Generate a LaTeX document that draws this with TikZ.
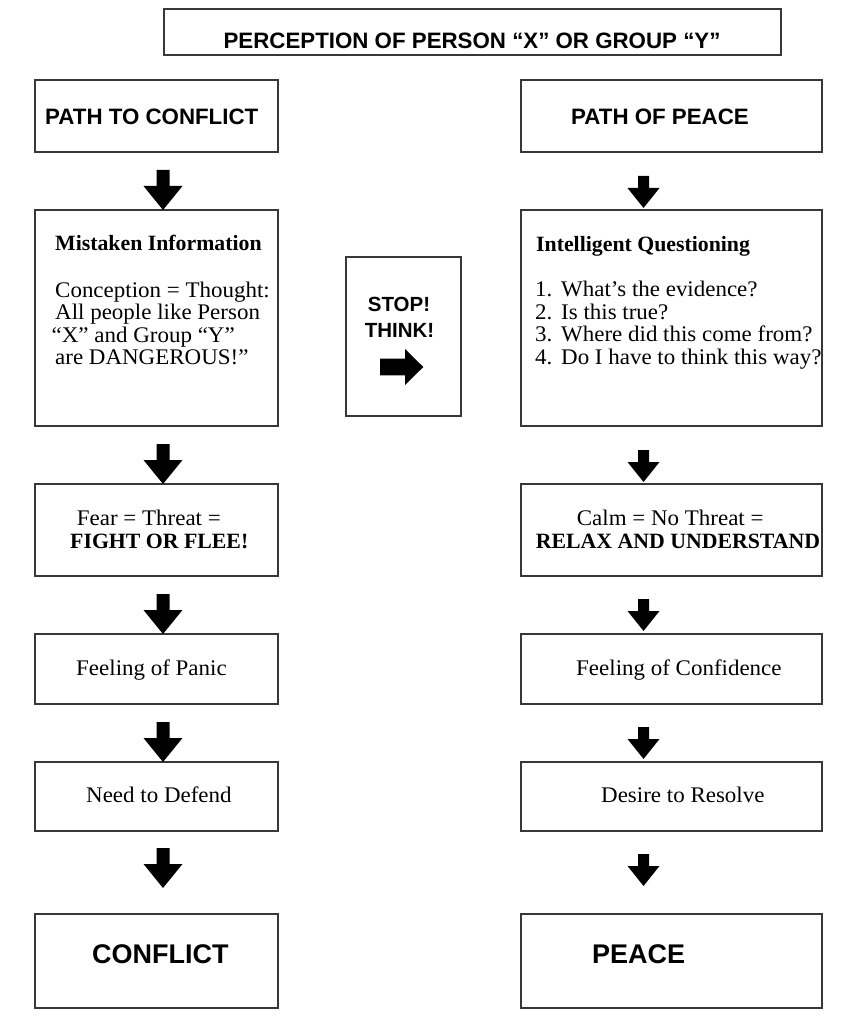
\documentclass[tikz,border=0pt]{standalone}
\usepackage{fontspec}
\newfontfamily\sansb{Liberation Sans}
\newfontfamily\serifr[FakeStretch=1.03]{Liberation Serif}
\newfontfamily\serifb{Liberation Serif}
\begin{document}
\begin{tikzpicture}[x=1pt,y=-1pt,
  box/.style={draw=black!78, line width=1.4pt, inner sep=0pt, outer sep=0pt, fill=white},
  sanslab/.style={font={\sansb\bfseries\fontsize{22.3}{26}\selectfont}, inner sep=0pt, anchor=base west},
  biglab/.style={font={\sansb\bfseries\fontsize{27}{30}\selectfont}, inner sep=0pt, anchor=base west},
  stoplab/.style={font={\sansb\bfseries\fontsize{20.5}{24}\selectfont}, inner sep=0pt, anchor=base},
  sreg/.style={font={\serifr\fontsize{22.3}{22.3}\selectfont}, inner sep=0pt, anchor=base west},
  sbold/.style={font={\serifb\bfseries\fontsize{21.8}{22.3}\selectfont}, inner sep=0pt, anchor=base west},
  bigdown/.pic={\fill[black] (0,0) -- (-19.5,-24) -- (-6.5,-24) -- (-6.5,-40) -- (6.5,-40) -- (6.5,-24) -- (19.5,-24) -- cycle;},
  smalldown/.pic={\fill[black] (0,0) -- (-16,-20) -- (-5.5,-20) -- (-5.5,-32) -- (5.5,-32) -- (5.5,-20) -- (16,-20) -- cycle;},
  bigright/.pic={\fill[black] (0,0) -- (-18.3,-18) -- (-18.3,-8.3) -- (-43.3,-8.3) -- (-43.3,8.3) -- (-18.3,8.3) -- (-18.3,18) -- cycle;}
]
\useasboundingbox (0,0) rectangle (854,1024);
\fill[white] (0,0) rectangle (854,1024);

% boxes
\node[box, minimum width=617pt, minimum height=46pt] (title) at (472.5,32) {};
\node[box, minimum width=243pt, minimum height=72pt] (ptc) at (156.5,116) {};
\node[box, minimum width=301pt, minimum height=72pt] (pop) at (671.5,116) {};
\node[box, minimum width=243pt, minimum height=216pt] (mist) at (156.5,318) {};
\node[box, minimum width=115pt, minimum height=159pt] (stop) at (403.5,336.5) {};
\node[box, minimum width=301pt, minimum height=216pt] (iq) at (671.5,318) {};
\node[box, minimum width=243pt, minimum height=92pt] (fear) at (156.5,530) {};
\node[box, minimum width=301pt, minimum height=92pt] (calm) at (671.5,530) {};
\node[box, minimum width=243pt, minimum height=70pt] (panic) at (156.5,669) {};
\node[box, minimum width=301pt, minimum height=70pt] (conf) at (671.5,669) {};
\node[box, minimum width=243pt, minimum height=69pt] (defend) at (156.5,796.5) {};
\node[box, minimum width=301pt, minimum height=69pt] (resolve) at (671.5,796.5) {};
\node[box, minimum width=243pt, minimum height=94pt] (conflict) at (156.5,961) {};
\node[box, minimum width=301pt, minimum height=94pt] (peace) at (671.5,961) {};

% texts
\node[sanslab, anchor=base] (titletxt) at (472,49) {PERCEPTION OF PERSON “X” OR GROUP “Y”};
\node[sanslab] (ptctxt) at (45,125) {PATH TO CONFLICT};
\node[sanslab] (poptxt) at (571,125) {PATH OF PEACE};
\node[biglab] (conflicttxt) at (92,963) {CONFLICT};
\node[biglab] (peacetxt) at (592,963) {PEACE};
\node[stoplab] (stoptxt) at (399,311) {STOP!};
\node[stoplab] (thinktxt) at (399.5,337) {THINK!};

\node[sbold] (m0) at (55,251) {Mistaken Information};
\node[sreg] (m1) at (55,297.5) {Conception = Thought:};
\node[sreg] (m2) at (55,319.8) {All people like Person};
\node[sreg] (m3) at (51.5,342) {“X” and Group “Y”};
\node[sreg] (m4) at (55,364) {are DANGEROUS!”};

\node[sbold] (q0) at (536,251.5) {Intelligent Questioning};
\node[sreg] (q1) at (535,296.7) {\makebox[26pt][l]{1.}What’s the evidence?};
\node[sreg] (q2) at (535,319) {\makebox[26pt][l]{2.}Is this true?};
\node[sreg] (q3) at (535,341.5) {\makebox[26pt][l]{3.}Where did this come from?};
\node[sreg] (q4) at (535,364) {\makebox[26pt][l]{4.}Do I have to think this way?};

\node[sreg] (f1) at (76.7,525) {Fear = Threat =};
\node[sbold] (f2) at (70,548.3) {FIGHT OR FLEE!};
\node[sreg] (c1) at (576.7,525) {Calm = No Threat =};
\node[sbold] (c2) at (535.7,548.3) {RELAX AND UNDERSTAND};

\node[sreg] (pt) at (76,675) {Feeling of Panic};
\node[sreg] (ct) at (576,675) {Feeling of Confidence};
\node[sreg] (dt) at (86,802) {Need to Defend};
\node[sreg] (rt) at (601,802) {Desire to Resolve};

% block arrows
\pic at ([xshift=6.5pt]mist.north) {bigdown};
\pic at ([xshift=6.5pt]fear.north) {bigdown};
\pic at ([xshift=6.5pt]panic.north) {bigdown};
\pic at ([xshift=6.5pt]defend.north) {bigdown};
\pic at ([xshift=6.5pt,yshift=26pt]conflict.north) {bigdown};

\pic at ([xshift=-28pt,yshift=2pt]iq.north) {smalldown};
\pic at ([xshift=-28pt,yshift=2pt]calm.north) {smalldown};
\pic at ([xshift=-28pt,yshift=3pt]conf.north) {smalldown};
\pic at ([xshift=-28pt,yshift=3pt]resolve.north) {smalldown};
\pic at ([xshift=-28pt,yshift=28pt]peace.north) {smalldown};

\pic at (423.3,367) {bigright};
\end{tikzpicture}
\end{document}
